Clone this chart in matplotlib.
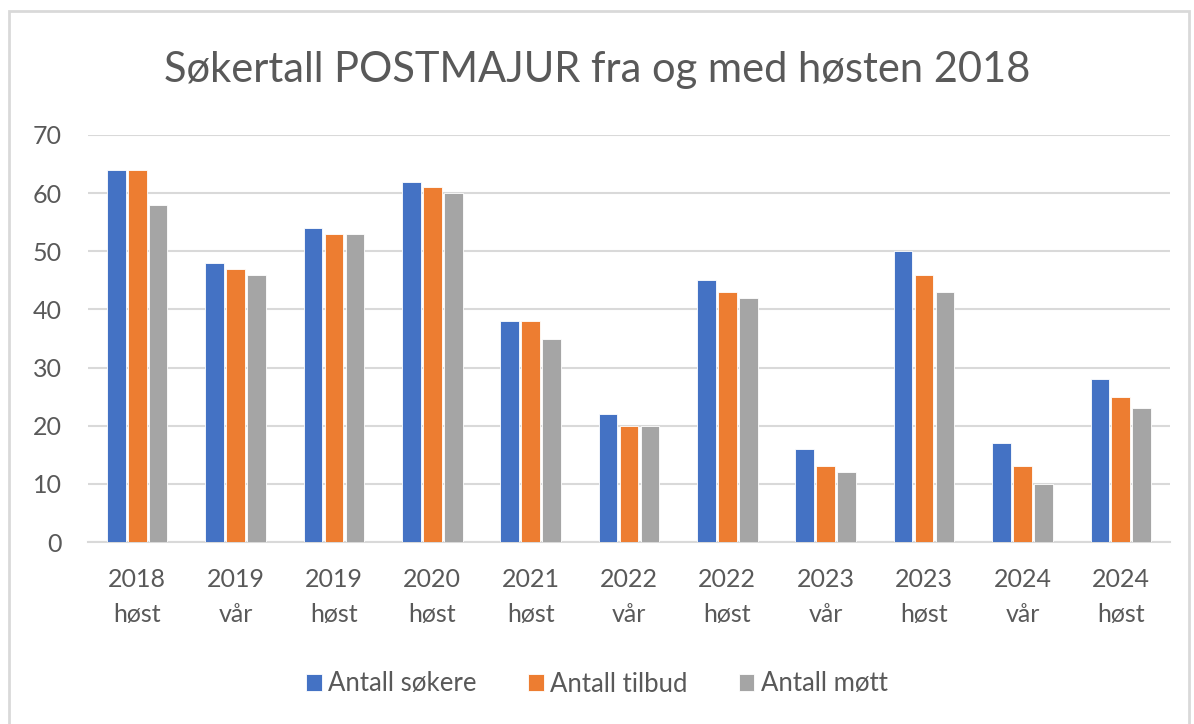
import matplotlib.pyplot as plt
import numpy as np
from matplotlib.patches import Rectangle

plt.rcParams['font.family'] = ['Lato', 'DejaVu Sans']

labels = ['2018\nhøst', '2019\nvår', '2019\nhøst', '2020\nhøst', '2021\nhøst', '2022\nvår',
          '2022\nhøst', '2023\nvår', '2023\nhøst', '2024\nvår', '2024\nhøst']
sokere = [64, 48, 54, 62, 38, 22, 45, 16, 50, 17, 28]
tilbud = [64, 47, 53, 61, 38, 20, 43, 13, 46, 13, 25]
mott = [58, 46, 53, 60, 35, 20, 42, 12, 43, 10, 23]

series = [('Antall søkere', sokere, '#4472c4'),
          ('Antall tilbud', tilbud, '#ed7d31'),
          ('Antall møtt', mott, '#a5a5a5')]

text_col = '#595959'
grid_col = '#d9d9d9'

fig = plt.figure(figsize=(11.94, 7.24), dpi=100)
ax = fig.add_axes([88 / 1194, 1 - 542 / 724, (1170 - 88) / 1194, (542 - 135) / 724])

# outer chart border
fig.patches.append(Rectangle((9 / 1194, -0.01), (1189 - 9) / 1194, 1 - 11 / 724 + 0.01,
                             transform=fig.transFigure, fill=False,
                             edgecolor=grid_col, linewidth=2))

x = np.arange(len(labels))
w = 0.19
step = 0.213
for i, (name, vals, col) in enumerate(series):
    ax.bar(x + (i - 1) * step, vals, w, color=col, label=name,
           edgecolor='white', linewidth=0.6, zorder=3)

ax.set_ylim(0, 70)
ax.set_xlim(-0.5, len(labels) - 0.5)
ax.set_yticks(range(0, 71, 10))
ax.yaxis.grid(True, color=grid_col, linewidth=1.5, zorder=0)
ax.set_axisbelow(True)
for s in ['top', 'right', 'left']:
    ax.spines[s].set_visible(False)
ax.spines['bottom'].set_color(grid_col)
ax.spines['bottom'].set_linewidth(1.5)
ax.tick_params(axis='both', length=0, colors=text_col, labelsize=18)
ax.tick_params(axis='y', pad=19)
ax.tick_params(axis='x', pad=19)
ax.set_xticks(x)
ax.set_xticklabels(labels, linespacing=1.6)

fig.text(0.5, 1 - 70 / 724, 'Søkertall POSTMAJUR fra og med høsten 2018',
         ha='center', va='center', fontsize=30, color=text_col)

fig.legend(loc='center', bbox_to_anchor=(0.5, 1 - 684 / 724), ncol=3, frameon=False,
           fontsize=18.5, labelcolor=text_col, handlelength=0.6, handleheight=0.6,
           handletextpad=0.25, columnspacing=2.0)

fig.savefig('out.png', dpi=100, facecolor='white')
